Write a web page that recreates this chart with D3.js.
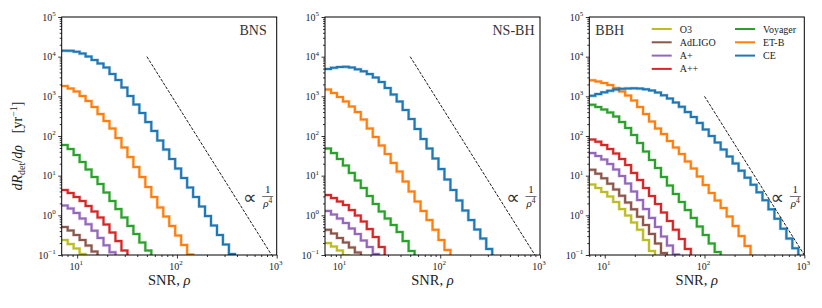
<!DOCTYPE html>
<html>
<head>
<meta charset="utf-8">
<script src="https://cdn.jsdelivr.net/npm/d3@7"></script>
<style>
body { margin: 0; background: #fff; }
svg text { font-family: "Liberation Serif", "DejaVu Serif", serif; fill: #222; }
</style>
</head>
<body>
<div id="vis"></div>
<script>
// histogram bin edges (SNR), log spaced from 7 to 1000
const binEdges = [7.00, 8.04, 9.22, 10.59, 12.15, 13.94, 16.00, 18.37, 21.09, 24.20, 27.78,
  31.88, 36.60, 42.01, 48.21, 55.34, 63.52, 72.91, 83.68, 96.03, 110.2, 126.5, 145.2,
  166.7, 191.3, 219.5, 252.0, 289.2, 331.9, 380.9, 437.2, 501.9, 576.0, 661.2, 758.8, 871.0, 1000];

const detectors = ["O3", "AdLIGO", "A+", "A++", "Voyager", "ET-B", "CE"];
const colors = ["#bcbd22", "#8c564b", "#9467bd", "#d62728", "#2ca02c", "#ff7f0e", "#1f77b4"];
const titles = ["BNS", "NS-BH", "BBH"];

// dR/drho per bin, yr^-1 (bins below 0.1 dropped after the first one)
const bnsO3 = [0.239, 0.189, 0.146, 0.106, 0.075];
const bnsAdLIGO = [0.508, 0.415, 0.319, 0.239, 0.173, 0.122, 0.084];
const bnsAplus = [1.77, 1.49, 1.15, 0.83, 0.60, 0.41, 0.27, 0.175, 0.118, 0.07];
const bnsAplusplus = [4.35, 3.66, 2.90, 2.30, 1.72, 1.25, 0.88, 0.59, 0.369, 0.225, 0.130, 0.075];
const bnsVoyager = [59.3, 47.0, 33.2, 22.1, 14.3, 9.25, 6.16, 3.76, 2.30, 1.44, 0.88, 0.54, 0.338, 0.207, 0.130, 0.079];
const bnsETB = [1820, 1575, 1323, 1020, 762, 538, 358, 239, 155, 89, 51.3, 29.5, 16.5, 9.25, 5.18, 2.90,
  1.58, 0.93, 0.54, 0.31, 0.179, 0.103, 0.059];
const bnsCE = [14200, 14000, 13300, 12000, 10100, 8240, 6720, 5330, 3660, 2580, 1670, 1020, 622, 380, 225,
  134, 77, 45.6, 26.3, 15.1, 8.73, 5.03, 2.90, 1.67, 0.96, 0.555, 0.319, 0.184, 0.106, 0.061];

const nsbhO3 = [0.200, 0.164, 0.130, 0.097, 0.071];
const nsbhAdLIGO = [0.43, 0.348, 0.268, 0.207, 0.155, 0.116, 0.084];
const nsbhAplus = [1.29, 1.05, 0.83, 0.64, 0.466, 0.338, 0.232, 0.159, 0.106, 0.067];
const nsbhAplusplus = [3.25, 2.73, 2.23, 1.82, 1.36, 0.99, 0.70, 0.45, 0.284, 0.159, 0.089];
const nsbhVoyager = [48.4, 37.2, 26.3, 18.0, 11.7, 7.55, 4.89, 3.07, 1.93, 1.25, 0.83, 0.57, 0.38, 0.225, 0.126, 0.071];
const nsbhETB = [1486, 1213, 961, 740, 554, 402, 260, 155, 94.3, 57.6, 35.2, 20.9, 12.7, 7.13, 3.99, 2.23,
  1.29, 0.76, 0.43, 0.239, 0.134, 0.075];
const nsbhCE = [4890, 5240, 5490, 5550, 5330, 4800, 4270, 3650, 2980, 2300, 1620, 1110, 740, 452, 268, 150,
  84, 48.4, 27.1, 14.7, 8.0, 4.35, 2.37, 1.32, 0.76, 0.44, 0.26, 0.142, 0.086];

const bbhO3 = [5.98, 4.89, 3.87, 2.98, 2.17, 1.44, 0.99, 0.66, 0.43, 0.239, 0.126, 0.067];
const bbhAdLIGO = [14.0, 11.2, 8.6, 6.3, 4.5, 3.1, 2.1, 1.42, 0.92, 0.57, 0.34, 0.195, 0.112, 0.066];
const bbhAplus = [37.2, 31.3, 25.5, 19.7, 14.3, 9.8, 6.34, 3.99, 2.43, 1.44, 0.86, 0.51, 0.292, 0.173, 0.103, 0.059];
const bbhAplusplus = [81.6, 71.8, 59.3, 47.0, 36.2, 26.3, 18.6, 11.7, 7.78, 4.89, 3.07, 1.93, 1.18, 0.72,
  0.43, 0.253, 0.142, 0.089];
const bbhVoyager = [611, 538, 466, 391, 310, 225, 159, 106, 66.6, 40.6, 24.8, 15.6, 9.25, 5.65, 3.45, 2.17,
  1.36, 0.86, 0.52, 0.319, 0.195, 0.119, 0.071];
const bbhETB = [2535, 2365, 2168, 1928, 1620, 1323, 1049, 785, 538, 358, 232, 155, 112, 74.8, 51.3, 35.2,
  22.8, 15.2, 9.53, 5.82, 3.66, 2.37, 1.53, 0.93, 0.54, 0.30, 0.169, 0.094];
const bbhCE = [1030, 1143, 1262, 1377, 1477, 1548, 1584, 1592, 1566, 1503, 1402, 1248, 1061, 881, 699, 545,
  402, 301, 213, 146, 100, 68.5, 45.6, 30.4, 20.3, 13.4, 8.9, 5.9, 3.8, 2.4, 1.42, 0.82, 0.46, 0.26, 0.148, 0.084];

// rho^-4 guide lines: [start, end] as [SNR, rate]
const guideBNS = [[50, 1e4], [1000, 0.0625]];
const guideNSBH = [[50, 1e4], [1000, 0.0625]];
const guideBBH = [[100, 1e3], [1000, 0.1]];

const yTickExps = [-1, 0, 1, 2, 3, 4, 5];
const xTickExps = [1, 2, 3];

const panels = [
  { title: titles[0], series: [bnsO3, bnsAdLIGO, bnsAplus, bnsAplusplus, bnsVoyager, bnsETB, bnsCE], guide: guideBNS },
  { title: titles[1], series: [nsbhO3, nsbhAdLIGO, nsbhAplus, nsbhAplusplus, nsbhVoyager, nsbhETB, nsbhCE], guide: guideNSBH },
  { title: titles[2], series: [bbhO3, bbhAdLIGO, bbhAplus, bbhAplusplus, bbhVoyager, bbhETB, bbhCE], guide: guideBBH }
];

const WIDTH = 822, HEIGHT = 308;
const PANEL_LEFT = [61.7, 325, 589.3];
const PANEL_W = 215, PANEL_TOP = 17, PANEL_H = 238;

const svg = d3.select("#vis").append("svg")
  .attr("width", WIDTH).attr("height", HEIGHT);

const x = d3.scaleLog().domain([7, 1000]).range([0, PANEL_W]);
const y = d3.scaleLog().domain([0.1, 1e5]).range([PANEL_H, 0]);

const yMajor = yTickExps.map(e => Math.pow(10, e));
const yMinor = [];
yTickExps.slice(0, -1).forEach(e => { for (let m = 2; m < 10; m++) yMinor.push(m * Math.pow(10, e)); });
const xMajor = xTickExps.map(e => Math.pow(10, e));
const xMinor = [7, 8, 9];
[1, 2].forEach(e => { for (let m = 2; m < 10; m++) xMinor.push(m * Math.pow(10, e)); });

const stepLine = d3.line()
  .x(d => x(d[0])).y(d => y(d[1]))
  .curve(d3.curveStepAfter);

function powerLabel(sel, e) {
  sel.append("tspan").text("10");
  sel.append("tspan").attr("dy", -4.5).style("font-size", "7px")
    .text(e < 0 ? "\u2212" + (-e) : e);
}

panels.forEach((p, pi) => {
  const g = svg.append("g").attr("transform", `translate(${PANEL_LEFT[pi]},${PANEL_TOP})`);

  g.append("clipPath").attr("id", "clip" + pi)
    .append("rect").attr("width", PANEL_W).attr("height", PANEL_H);

  const plot = g.append("g").attr("clip-path", `url(#clip${pi})`);

  p.series.forEach((vals, si) => {
    const pts = vals.map((v, i) => [binEdges[i], v]);
    pts.push([binEdges[vals.length], vals[vals.length - 1]]);
    plot.append("path").datum(pts)
      .attr("d", stepLine)
      .attr("fill", "none")
      .attr("stroke", colors[si])
      .attr("stroke-opacity", 0.35)
      .attr("stroke-width", 3.2);
    plot.append("path").datum(pts)
      .attr("d", stepLine)
      .attr("fill", "none")
      .attr("stroke", colors[si])
      .attr("stroke-width", 2);
  });

  plot.append("path").datum(p.guide)
    .attr("d", d3.line().x(d => x(d[0])).y(d => y(d[1])))
    .attr("fill", "none")
    .attr("stroke", "#000")
    .attr("stroke-width", 0.9)
    .attr("stroke-dasharray", "3,1.4");

  // axes
  const ax = g.append("g").attr("transform", `translate(0,${PANEL_H})`);
  ax.call(d3.axisBottom(x).tickValues(xMajor).tickSize(3.5).tickFormat("").tickSizeOuter(0));
  ax.append("g").call(d3.axisBottom(x).tickValues(xMinor).tickSize(2).tickFormat("").tickSizeOuter(0));
  const ay = g.append("g");
  ay.call(d3.axisLeft(y).tickValues(yMajor).tickSize(3.5).tickFormat("").tickSizeOuter(0));
  ay.append("g").call(d3.axisLeft(y).tickValues(yMinor).tickSize(2).tickFormat("").tickSizeOuter(0));
  g.selectAll(".domain").remove();
  g.selectAll(".tick line").attr("stroke", "#000").attr("stroke-width", 0.8);

  g.append("rect").attr("width", PANEL_W).attr("height", PANEL_H)
    .attr("fill", "none").attr("stroke", "#000").attr("stroke-width", 1);

  xTickExps.forEach((e, i) => {
    g.append("text").attr("x", x(xMajor[i]) - 1).attr("y", PANEL_H + 14.5)
      .attr("text-anchor", "middle").style("font-size", "10px")
      .call(powerLabel, e);
  });
  yTickExps.forEach((e, i) => {
    g.append("text").attr("x", -6).attr("y", y(yMajor[i]) + 3.5)
      .attr("text-anchor", "end").style("font-size", "10px")
      .call(powerLabel, e);
  });

  // x label
  const xl = g.append("text").attr("x", PANEL_W / 2).attr("y", PANEL_H + 29.5)
    .attr("text-anchor", "middle").style("font-size", "14.5px");
  xl.append("tspan").text("SNR, ");
  xl.append("tspan").style("font-style", "italic").text("\u03c1");

  // proportional-to note
  const nx = PANEL_W - 27, fx = PANEL_W - 9;
  g.append("text").attr("x", nx).attr("y", 187).attr("text-anchor", "middle")
    .style("font-family", "DejaVu Sans").style("font-size", "19px").style("fill", "#333").text("\u221d");
  g.append("text").attr("x", fx).attr("y", 175.5).attr("text-anchor", "middle")
    .style("font-size", "11px").text("1");
  g.append("line").attr("x1", fx - 5.5).attr("x2", fx + 5.5).attr("y1", 179.5).attr("y2", 179.5)
    .attr("stroke", "#333").attr("stroke-width", 0.7);
  const den = g.append("text").attr("x", fx).attr("y", 189.5).attr("text-anchor", "middle")
    .style("font-size", "11px");
  den.append("tspan").style("font-style", "italic").text("\u03c1");
  den.append("tspan").attr("dy", -4).style("font-size", "7.5px").text("4");

  // panel title
  const tt = g.append("text").attr("y", 18).style("font-size", "14px").style("fill", "#333").text(p.title);
  if (pi === 2) tt.attr("x", 6).attr("text-anchor", "start");
  else tt.attr("x", PANEL_W - (pi === 0 ? 10 : 5.5)).attr("text-anchor", "end");
});

// y label
const yl = svg.append("text").attr("transform", "translate(22,146) rotate(-90)")
  .attr("text-anchor", "middle").style("font-size", "14px");
yl.append("tspan").style("font-style", "italic").text("dR");
yl.append("tspan").attr("dy", 3).style("font-size", "10px").text("det");
yl.append("tspan").attr("dy", -3).text("/");
yl.append("tspan").style("font-style", "italic").text("d\u03c1");
yl.append("tspan").attr("dx", 12).text("[yr");
yl.append("tspan").attr("dy", -5).style("font-size", "10px").text("\u22121");
yl.append("tspan").attr("dy", 5).text("]");

// legend
const legend = svg.append("g");
detectors.forEach((name, i) => {
  const col = i < 4 ? 0 : 1;
  const row = i < 4 ? i : i - 4;
  const lx = col === 0 ? 651.7 : 735;
  const ly = 29 + row * 13.3;
  legend.append("line").attr("x1", lx).attr("x2", lx + 20).attr("y1", ly).attr("y2", ly)
    .attr("stroke", colors[i]).attr("stroke-width", 2);
  legend.append("text").attr("x", lx + 28).attr("y", ly + 3.5)
    .style("font-size", "10px").text(name);
});
</script>
</body>
</html>
